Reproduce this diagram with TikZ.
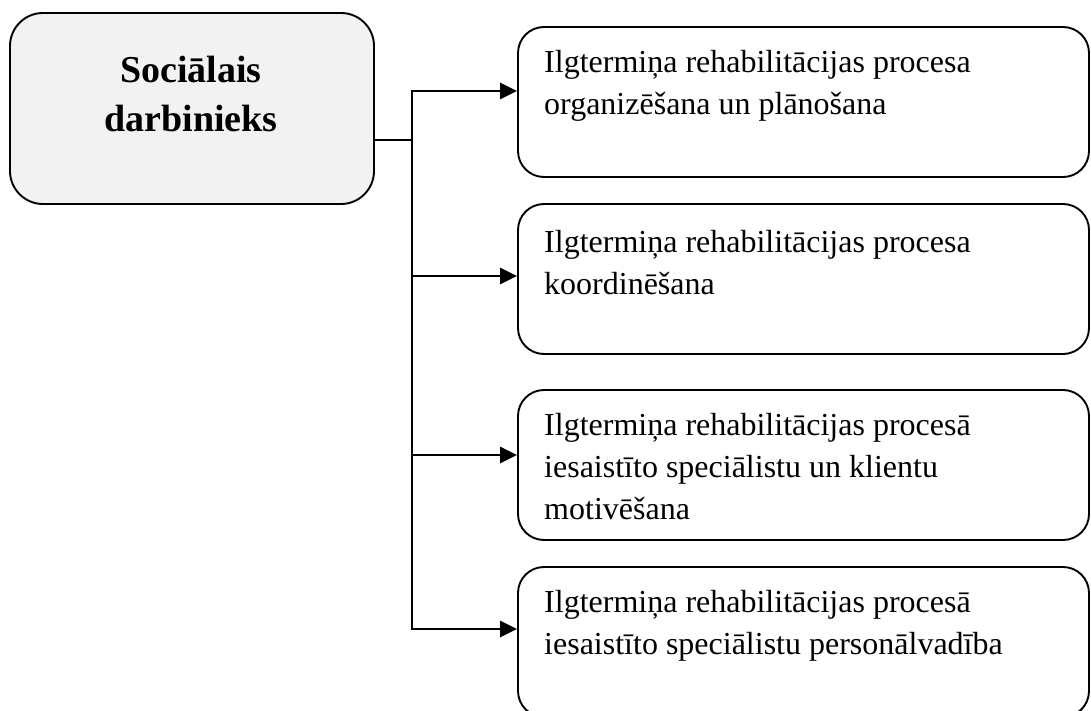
\documentclass[tikz,border=0pt]{standalone}
\usepackage{fontspec}
\setmainfont{Liberation Serif}
\usetikzlibrary{arrows.meta}
\begin{document}
\begin{tikzpicture}[x=1pt,y=-1pt,
  mainbox/.style={draw=black, line width=1.9pt, fill={rgb,255:red,242;green,242;blue,242}, rounded corners=33pt, minimum width=364pt, minimum height=191pt, inner sep=0pt},
  itembox/.style={draw=black, line width=1.9pt, fill=white, rounded corners=26pt, minimum width=571pt, minimum height=150pt, inner sep=0pt},
  itemtext/.style={anchor=base west, inner sep=0pt, align=left, font=\fontsize{32}{42}\selectfont},
  maintext/.style={anchor=base, inner sep=0pt, align=center, font=\fontsize{38}{49}\selectfont\bfseries},
  bus/.style={line width=2pt},
  feed/.style={line width=1.3pt},
  arr/.style={line width=2.8pt, -{Triangle[length=17pt,width=16pt]}}
]
\useasboundingbox (0,0) rectangle (1091,711);
\clip (0,0) rectangle (1091,711);

\node[mainbox] (m) at (192,108.5) {};
\node[maintext] (mt) at (191,132) {Sociālais\\darbinieks};

\node[itembox] (b1) at (803.5,102) {};
\node[itembox] (b2) at (803.5,279) {};
\node[itembox] (b3) at (803.5,465) {};
\node[itembox] (b4) at (803.5,642) {};

\node[itemtext] (t1) at (544,115) {Ilgtermiņa rehabilitācijas procesa\\organizēšana un plānošana};
\node[itemtext] (t2) at (544,294) {Ilgtermiņa rehabilitācijas procesa\\koordinēšana};
\node[itemtext] (t3) at (544,519) {Ilgtermiņa rehabilitācijas procesā\\iesaistīto speciālistu un klientu\\motivēšana};
\node[itemtext] (t4) at (544,654) {Ilgtermiņa rehabilitācijas procesā\\iesaistīto speciālistu personālvadība};

\coordinate (j0) at (412,140);
\coordinate (j1) at (412,91);
\coordinate (j2) at (412,276);
\coordinate (j3) at (412,455);
\coordinate (j4) at (412,629);

\draw[feed] (j0 -| m.east) -- (j0);
\draw[bus, line cap=rect] (j1) -- (j4);
\draw[arr] (j1) -- (j1 -| b1.west);
\draw[arr] (j2) -- (j2 -| b2.west);
\draw[arr] (j3) -- (j3 -| b3.west);
\draw[arr] (j4) -- (j4 -| b4.west);
\end{tikzpicture}
\end{document}
